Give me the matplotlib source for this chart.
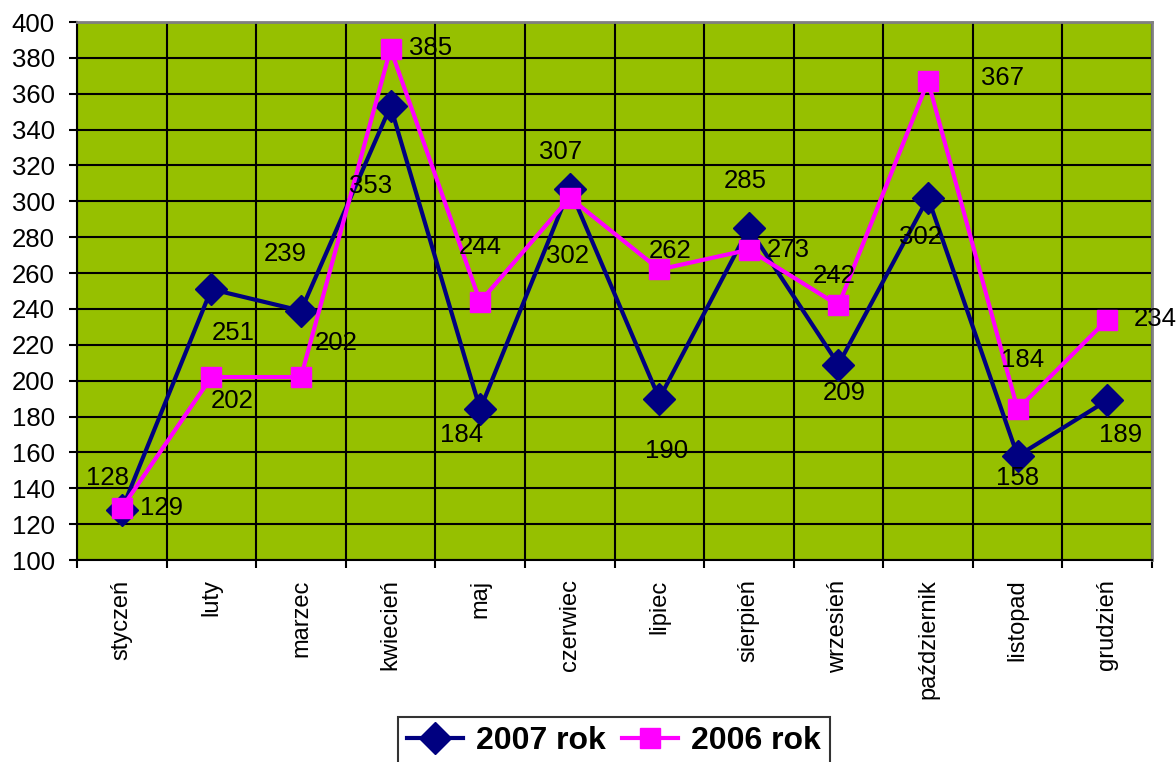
import matplotlib.pyplot as plt
import numpy as np

plt.rcParams['font.family'] = ['Liberation Sans', 'DejaVu Sans']

miesiace = ['styczeń', 'luty', 'marzec', 'kwiecień', 'maj', 'czerwiec',
            'lipiec', 'sierpień', 'wrzesień', 'październik', 'listopad', 'grudzień']
rok_2007 = [128, 251, 239, 353, 184, 307, 190, 285, 209, 302, 158, 189]
rok_2006 = [129, 202, 202, 385, 244, 302, 262, 273, 242, 367, 184, 234]

# przesuniecia etykiet (piksele) - jak w excelu
off_2007 = [(-14, 32), (22, -44), (-16, 57), (-20, -80), (-19, -26), (-9, 37),
            (7, -52), (-4, 47), (6, -28), (-8, -39), (0, -22), (13, -35)]
off_2006 = [(40, 0), (21, -24), (35, 34), (40, 1), (0, 55), (-2, -58),
            (11, 18), (39, 0), (-4, 29), (74, 3), (5, 49), (48, 1)]

fig = plt.figure(figsize=(11.76, 7.62), dpi=100)
ax = fig.add_axes([77/1176, 1 - 560/762, (1152 - 77)/1176, (560 - 22)/762])
ax.set_facecolor('#96C000')

x = np.arange(len(miesiace))
l1, = ax.plot(x, rok_2007, color='#000080', lw=3, marker='D', ms=16,
              label='2007 rok', zorder=3)
l2, = ax.plot(x, rok_2006, color='#FF00FF', lw=3, marker='s', ms=14,
              label='2006 rok', zorder=4)

for i in range(len(x)):
    ax.annotate(str(rok_2007[i]), (x[i], rok_2007[i]), xytext=off_2007[i],
                textcoords='offset pixels', ha='center', va='center',
                fontsize=18.5, annotation_clip=False, zorder=5)
    ax.annotate(str(rok_2006[i]), (x[i], rok_2006[i]), xytext=off_2006[i],
                textcoords='offset pixels', ha='center', va='center',
                fontsize=18.5, annotation_clip=False, zorder=5)

ax.set_xlim(-0.5, 11.5)
ax.set_ylim(100, 400)
ax.set_yticks(np.arange(100, 401, 20))
ax.set_xticks(x)
ax.set_xticklabels(miesiace, rotation=90, fontsize=17)
ax.set_xticks(np.arange(-0.5, 12, 1), minor=True)
ax.tick_params(axis='x', which='major', length=0, pad=14)
ax.tick_params(axis='x', which='minor', length=6, width=1.5, direction='out')
ax.tick_params(axis='y', labelsize=18.5, length=6, width=1.5, direction='out', pad=10)

ax.grid(True, axis='y', color='black', lw=1.5)
ax.grid(True, axis='x', which='minor', color='black', lw=1.5)
ax.set_axisbelow(True)

ax.spines['left'].set_linewidth(1.5)
ax.spines['bottom'].set_linewidth(1.5)
ax.spines['top'].set_color('#808080')
ax.spines['right'].set_color('#808080')
ax.spines['top'].set_linewidth(2)
ax.spines['right'].set_linewidth(2)

leg = fig.legend(handles=[l1, l2], loc='lower center', bbox_to_anchor=(0.522, -0.026),
                 ncol=2, frameon=True, fancybox=False, edgecolor='black',
                 prop={'weight': 'bold', 'size': 23}, handlelength=1.75,
                 columnspacing=0.5, handletextpad=0.4, borderpad=0.3)
leg.get_frame().set_linewidth(1.5)

fig.savefig('out.png', dpi=100)
